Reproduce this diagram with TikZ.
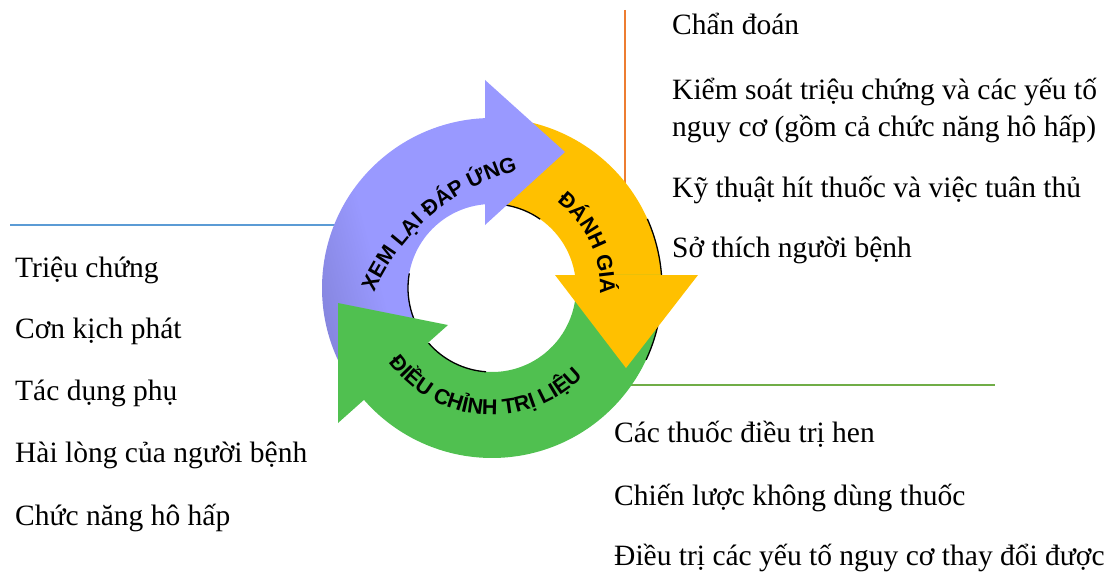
\documentclass[tikz,border=0pt]{standalone}
\usepackage{fontspec}
\setmainfont{Liberation Serif}
\newfontfamily\arcfont{Liberation Sans}
\usetikzlibrary{decorations.text}
\definecolor{blight}{RGB}{153,153,255}
\definecolor{bmid}{RGB}{125,125,208}
\definecolor{bdark}{RGB}{85,85,140}
\definecolor{oarrow}{RGB}{255,192,0}
\definecolor{garrow}{RGB}{80,192,80}
\definecolor{lineorange}{RGB}{237,125,49}
\definecolor{lineblue}{RGB}{91,155,213}
\definecolor{linegreen}{RGB}{112,173,71}
\pgfdeclarehorizontalshading{bshade}{100bp}{color(0bp)=(bdark); color(22bp)=(bmid); color(45bp)=(blight); color(100bp)=(blight)}
\begin{document}
\begin{tikzpicture}[x=1pt,y=1pt,
  itemtext/.style={anchor=base west, inner sep=0pt, font=\fontsize{29.5}{34}\selectfont},
  guide/.style={line width=2.5pt},
  bevel/.style={line width=1.3pt, black},
  arclabel/.style={decorate, decoration={text along path, text align=center, text={|\arcfont\bfseries\fontsize{21.5}{22}\selectfont|#1}}}]
\useasboundingbox (0,0) rectangle (1108,574);
% guide lines
\coordinate (oTop) at (625,564); \coordinate (oEnd) at (625,360);
\draw[guide, lineorange] (oTop) -- (oEnd);
\coordinate (bL) at (10,349); \coordinate (bR) at (345,349);
\draw[guide, lineblue] (bL) -- (bR);
\coordinate (gL) at (615,189); \coordinate (gR) at (995,189);
\draw[guide, linegreen] (gL) -- (gR);
% ring bodies
\begin{scope}[shift={(492,286)}]
  \path[shading=bshade, shading angle=15] (221.2:170pt) arc[start angle=221.2,end angle=91,radius=170pt] -- (93.5:84pt) arc[start angle=93.5,end angle=220.6,radius=84pt] -- cycle;
  \fill[oarrow] (92.36:170pt) arc[start angle=92.36,end angle=3,radius=170pt] -- (7.5:84pt) arc[start angle=7.5,end angle=94.78,radius=84pt] -- cycle;
  \fill[garrow] (4.39:170pt) arc[start angle=4.39,end angle=-140,radius=170pt] -- (-141:84pt) arc[start angle=-141,end angle=8.9,radius=84pt] -- cycle;
  \draw[bevel] (92:84pt) arc[start angle=92,end angle=55,radius=84pt];
  \draw[bevel] (24:170pt) arc[start angle=24,end angle=4,radius=170pt];
  \draw[bevel] (-5:170pt) arc[start angle=-5,end angle=-25,radius=170pt];
  \draw[bevel] (170:84pt) arc[start angle=170,end angle=220,radius=84pt];
  \draw[bevel] (221:84pt) arc[start angle=221,end angle=266,radius=84pt];
\end{scope}
% arrow heads
\fill[blight] (485,494) -- (565,422) -- (485,349) -- cycle;
\fill[oarrow] (555,299) -- (698,299) -- (626,206) -- cycle;
\fill[garrow] (338,271) -- (448,249) -- (338,151) -- cycle;
% arc labels
\path[arclabel={XEM LẠI ĐÁP ỨNG}] (571,195) ++(165.3:215pt) arc[start angle=165.3,end angle=95.3,radius=215pt];
\path[arclabel={ĐÁNH GIÁ}] (492,286) ++(65:108pt) arc[start angle=65,end angle=-15,radius=108pt];
\path[arclabel={ĐIỀU CHỈNH TRỊ LIỆU}] (492,286) ++(-154.3:127pt) arc[start angle=-154.3,end angle=-34.3,radius=127pt];
% lists
\node[itemtext] (r1) at (672,539) {Chẩn đoán};
\node[itemtext] (r2) at (672,474) {Kiểm soát triệu chứng và các yếu tố};
\node[itemtext] (r3) at (672,437) {nguy cơ (gồm cả chức năng hô hấp)};
\node[itemtext] (r4) at (672,377) {Kỹ thuật hít thuốc và việc tuân thủ};
\node[itemtext] (r5) at (672,317) {Sở thích người bệnh};
\node[itemtext] (l1) at (15,297) {Triệu chứng};
\node[itemtext] (l2) at (15,236) {Cơn kịch phát};
\node[itemtext] (l3) at (15,174) {Tác dụng phụ};
\node[itemtext] (l4) at (15,112) {Hài lòng của người bệnh};
\node[itemtext] (l5) at (15,49) {Chức năng hô hấp};
\node[itemtext] (b1) at (614,132) {Các thuốc điều trị hen};
\node[itemtext] (b2) at (614,69) {Chiến lược không dùng thuốc};
\node[itemtext] (b3) at (614,9) {Điều trị các yếu tố nguy cơ thay đổi được};
\end{tikzpicture}
\end{document}
